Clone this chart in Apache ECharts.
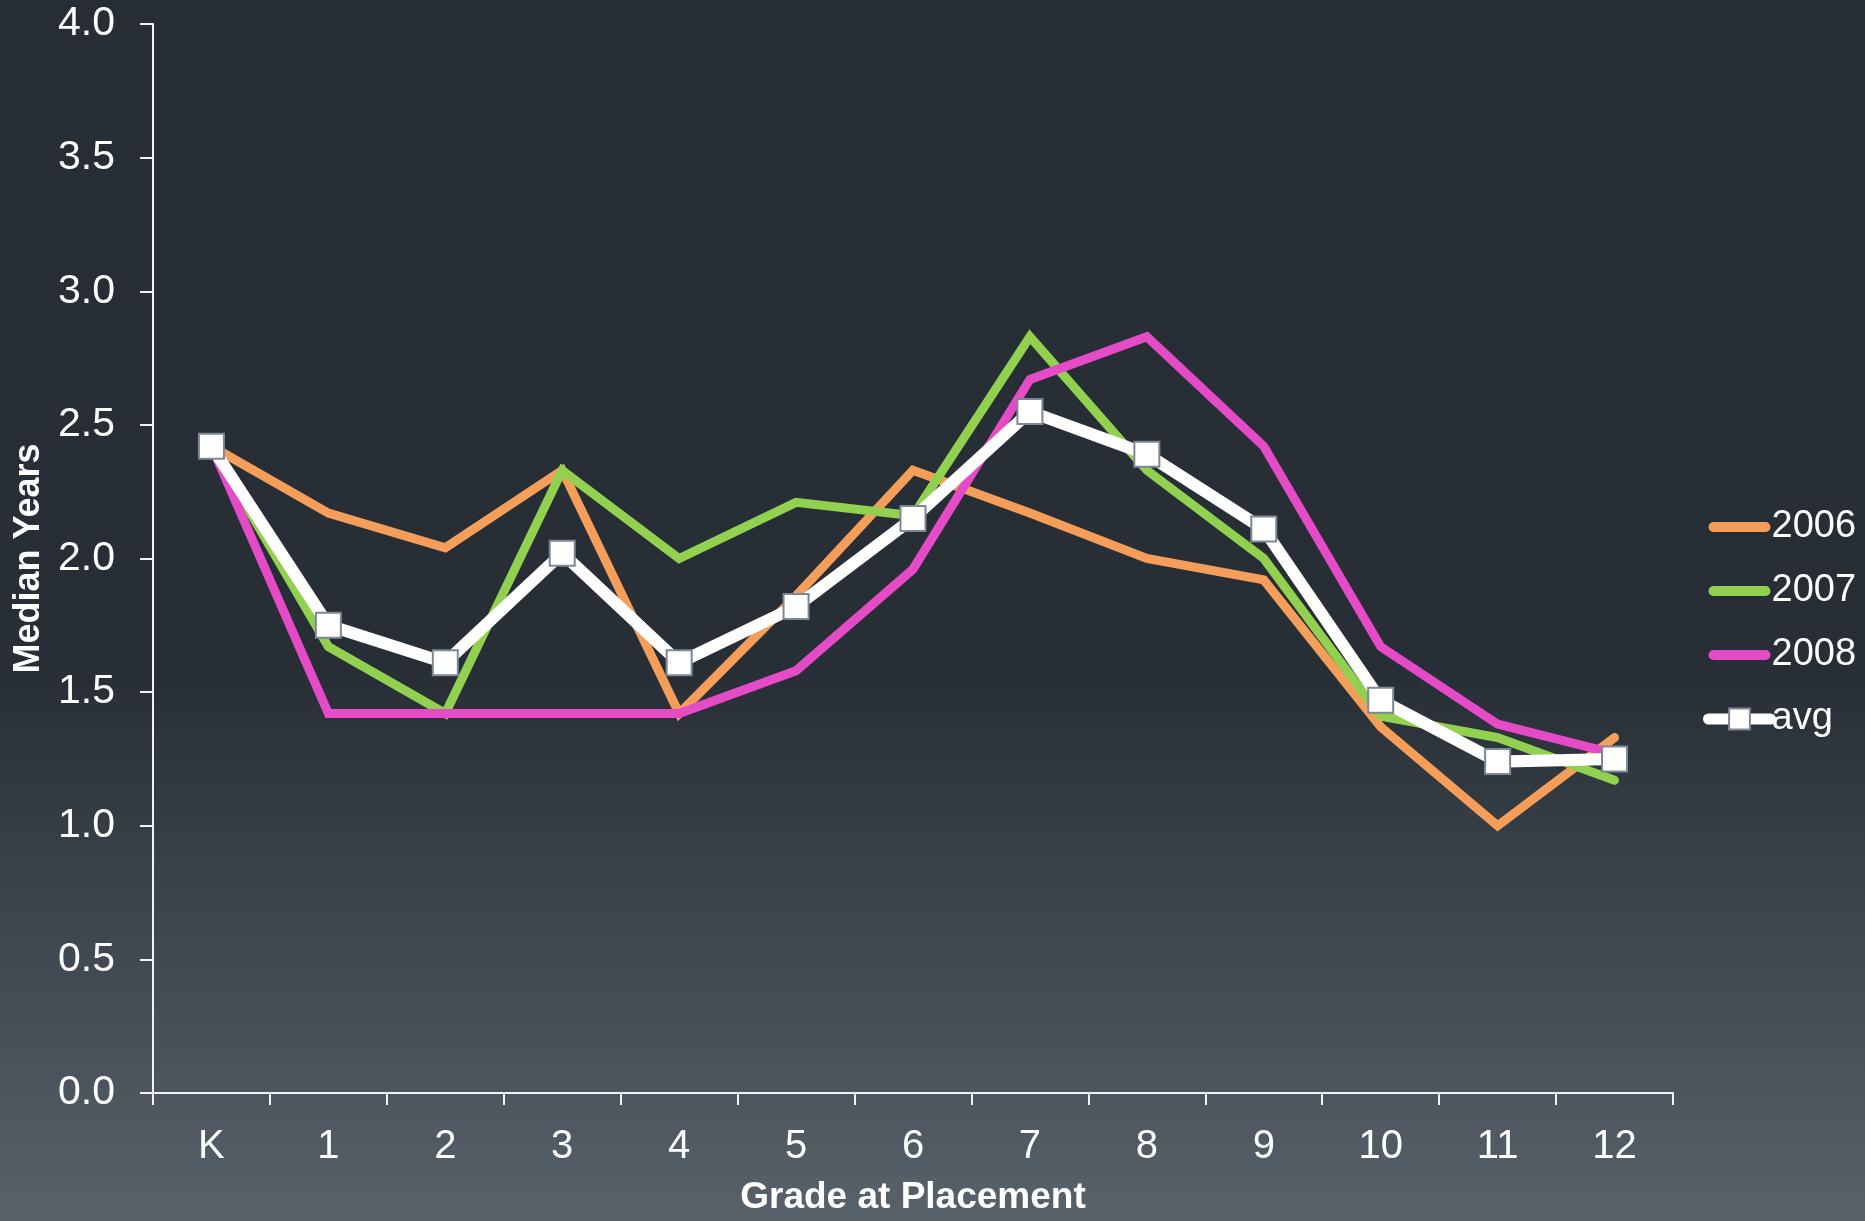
<!DOCTYPE html>
<html>
<head>
<meta charset="utf-8">
<script src="https://cdn.jsdelivr.net/npm/echarts@6/dist/echarts.min.js"></script>
<style>
  html, body { margin: 0; padding: 0; }
  #main { width: 1865px; height: 1221px; }
</style>
</head>
<body>
<div id="main"></div>
<script>
// grade at placement
var grades = ['K', '1', '2', '3', '4', '5', '6', '7', '8', '9', '10', '11', '12'];
// median years per cohort
var y2006 = [2.42, 2.17, 2.04, 2.33, 1.42, 1.86, 2.33, 2.17, 2.00, 1.92, 1.37, 1.00, 1.33];
var y2007 = [2.42, 1.67, 1.42, 2.33, 2.00, 2.21, 2.16, 2.83, 2.33, 2.00, 1.41, 1.33, 1.17];
var y2008 = [2.42, 1.42, 1.42, 1.42, 1.42, 1.58, 1.96, 2.67, 2.83, 2.42, 1.67, 1.38, 1.27];
var avg   = [2.42, 1.75, 1.61, 2.02, 1.61, 1.82, 2.15, 2.55, 2.39, 2.11, 1.47, 1.24, 1.25];

var font = 'Liberation Sans, Arial, sans-serif';
var axisColor = '#f2f2f2';
// rounded bar used as legend key for the plain lines
var pill = 'path://M5,0 L57,0 A5,5 0 0 1 57,10 L5,10 A5,5 0 0 1 5,0 Z';

var chartDom = document.getElementById('main');
var myChart = echarts.init(chartDom);

function lineSeries(name, data, color) {
  return {
    name: name,
    type: 'line',
    data: data,
    symbol: 'none',
    color: color,
    lineStyle: { color: color, width: 9, join: 'miter', cap: 'round' }
  };
}

var option = {
  animation: false,
  backgroundColor: {
    type: 'linear', x: 0, y: 0, x2: 0, y2: 1,
    colorStops: [
      { offset: 0, color: '#262d35' },
      { offset: 0.55, color: '#272e36' },
      { offset: 1, color: '#58626b' }
    ]
  },
  textStyle: { fontFamily: font },
  grid: { left: 153, top: 24, right: 192, bottom: 127, containLabel: false },
  legend: {
    orient: 'vertical',
    left: 1703,
    top: 508,
    itemWidth: 62,
    itemHeight: 26,
    itemGap: 26,
    padding: 0,
    lineStyle: { width: 11, cap: 'round' },
    textStyle: { color: '#ffffff', fontSize: 38, fontFamily: font, padding: [0, 0, 0, -4] },
    data: [
      { name: '2006', icon: pill },
      { name: '2007', icon: pill },
      { name: '2008', icon: pill },
      { name: 'avg' }
    ]
  },
  xAxis: {
    type: 'category',
    data: grades,
    boundaryGap: true,
    name: 'Grade at Placement',
    nameLocation: 'middle',
    nameGap: 86,
    nameTextStyle: { color: '#ffffff', fontSize: 37, fontWeight: 'bold', fontFamily: font },
    axisLine: { lineStyle: { color: axisColor, width: 2 } },
    axisTick: { show: true, length: 12, inside: false, lineStyle: { color: axisColor, width: 2 } },
    axisLabel: { color: '#ffffff', fontSize: 40, margin: 34, fontFamily: font },
    splitLine: { show: false }
  },
  yAxis: {
    type: 'value',
    min: 0,
    max: 4,
    interval: 0.5,
    name: 'Median Years',
    nameLocation: 'middle',
    nameGap: 106,
    nameTextStyle: { color: '#ffffff', fontSize: 36, fontWeight: 'bold', fontFamily: font },
    axisLine: { show: true, lineStyle: { color: axisColor, width: 2 } },
    axisTick: { show: true, length: 13, inside: false, lineStyle: { color: axisColor, width: 2 } },
    axisLabel: {
      color: '#ffffff', fontSize: 41, margin: 38, fontFamily: font,
      formatter: function (v) { return v.toFixed(1); }
    },
    splitLine: { show: false }
  },
  series: [
    lineSeries('2006', y2006, '#f59e5a'),
    lineSeries('2007', y2007, '#92d050'),
    lineSeries('2008', y2008, '#e54ac7'),
    {
      name: 'avg',
      type: 'line',
      data: avg,
      symbol: 'rect',
      symbolSize: 25,
      color: '#ffffff',
      lineStyle: { color: '#ffffff', width: 12, join: 'miter', cap: 'round' },
      itemStyle: { color: '#ffffff', borderColor: '#7d8796', borderWidth: 2 }
    }
  ]
};

option && myChart.setOption(option);
</script>
</body>
</html>
